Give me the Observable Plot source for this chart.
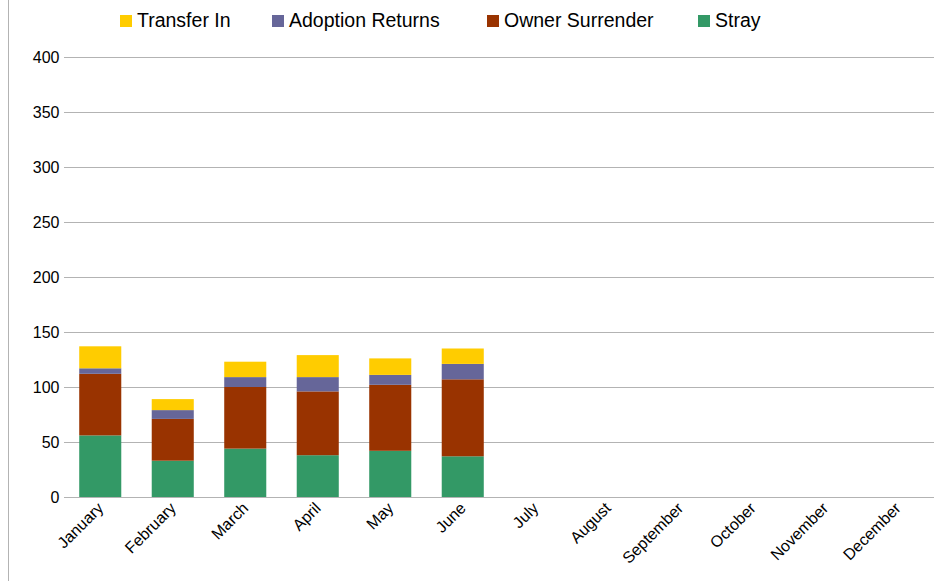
<!DOCTYPE html>
<html>
<head>
<meta charset="utf-8">
<script src="https://cdn.jsdelivr.net/npm/d3@7"></script>
<script src="https://cdn.jsdelivr.net/npm/@observablehq/plot@0.6"></script>
<style>
  body { margin: 0; background: #fff; font-family: "Liberation Sans", Arial, sans-serif; }
  #wrap { position: relative; width: 952px; height: 581px; overflow: hidden; }
  #frame { position: absolute; left: 8px; top: 0; width: 0; height: 581px; border-left: 1px solid #b3b3b3; }
  #legend { height: 40px; font-size: 19.5px; color: #000; }
  .item { position: absolute; top: 9px; display: flex; align-items: center; }
  .sw { width: 12px; height: 12px; margin-right: 5px; }
</style>
</head>
<body>
<div id="wrap">
  <div id="frame"></div>
  <div id="legend"></div>
  <div id="chart"></div>
</div>
<script>
const months = ["January","February","March","April","May","June","July","August","September","October","November","December"];
const series = ["Transfer In","Adoption Returns","Owner Surrender","Stray"];
const colors = ["#ffcc00","#666699","#993300","#339966"];
const stray = [56, 33, 44, 38, 42, 37];
const ownerSurrender = [56, 38, 56, 58, 60, 70];
const adoptionReturns = [5, 8, 9, 13, 9, 14];
const transferIn = [20, 10, 14, 20, 15, 14];
const yTicks = [0, 50, 100, 150, 200, 250, 300, 350, 400];

const seriesValues = {"Stray": stray, "Owner Surrender": ownerSurrender, "Adoption Returns": adoptionReturns, "Transfer In": transferIn};
const stackOrder = ["Stray","Owner Surrender","Adoption Returns","Transfer In"];
const data = [];
for (const s of stackOrder) {
  seriesValues[s].forEach((v, i) => data.push({month: months[i], series: s, value: v}));
}

// legend
const legendX = [120, 272, 487, 698];
const legend = document.getElementById("legend");
series.forEach((s, i) => {
  const d = document.createElement("div");
  d.className = "item";
  d.style.left = legendX[i] + "px";
  d.innerHTML = `<span class="sw" style="background:${colors[i]}"></span><span>${s}</span>`;
  legend.appendChild(d);
});

const chart = Plot.plot({
  width: 952,
  height: 541,
  marginTop: 17,
  marginBottom: 84,
  marginLeft: 64,
  marginRight: 18,
  style: {fontFamily: "Liberation Sans, Arial, sans-serif", fontSize: "16px", color: "#000", background: "transparent"},
  x: {domain: months, label: null, paddingInner: 0.42, paddingOuter: 0.21, round: false, tickSize: 0, tickRotate: -45, tickPadding: 8},
  y: {domain: [0, 400], ticks: yTicks, label: null, tickSize: 0, tickPadding: 5},
  color: {domain: series, range: colors},
  marks: [
    Plot.ruleY(yTicks, {stroke: "#b3b3b3", strokeWidth: 1}),
    Plot.barY(data, Plot.stackY({order: stackOrder}, {x: "month", y: "value", fill: "series"})),
    Plot.ruleY([0], {stroke: "#b3b3b3", strokeWidth: 1})
  ]
});
chart.querySelectorAll("text").forEach(t => t.setAttribute("fill", "#000"));
document.getElementById("chart").appendChild(chart);
</script>
</body>
</html>
